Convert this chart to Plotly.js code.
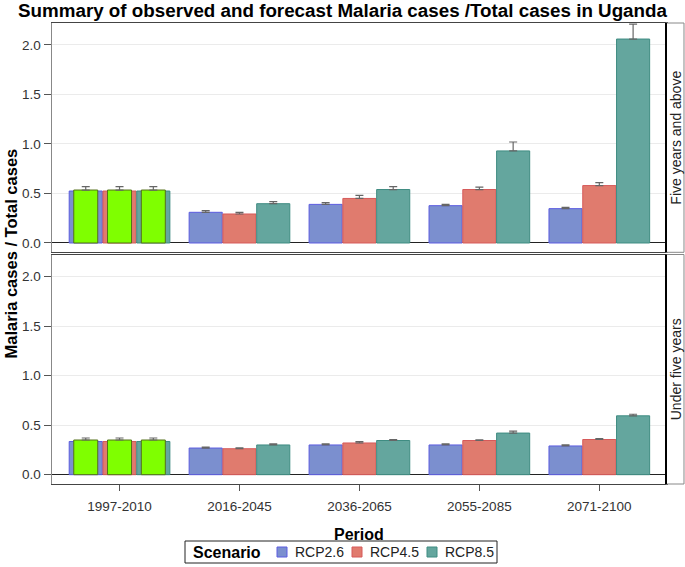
<!DOCTYPE html>
<html>
<head>
<meta charset="utf-8">
<script src="https://cdn.plot.ly/plotly-3.0.1.min.js"></script>
<style>
  html, body { margin: 0; padding: 0; background: #fff; }
  #chart { width: 685px; height: 567px; }
</style>
</head>
<body>
<div id="chart"></div>
<script>
// periods on the x axis
var periods = ["1997-2010", "2016-2045", "2036-2065", "2055-2085", "2071-2100"];
var scenarios = ["RCP2.6", "RCP4.5", "RCP8.5"];

// Five years and above
var rcp26_five = [0.525, 0.31, 0.39, 0.377, 0.347];
var rcp45_five = [0.525, 0.293, 0.45, 0.54, 0.58];
var rcp85_five = [0.525, 0.397, 0.54, 0.93, 2.06];
var rcp26_five_err = [null, 0.016, 0.017, 0.013, 0.013];
var rcp45_five_err = [null, 0.017, 0.03, 0.025, 0.03];
var rcp85_five_err = [null, 0.02, 0.03, 0.09, 0.15];
var obs_five = 0.535;
var obs_five_err = 0.034;

// Under five years
var rcp26_under = [0.335, 0.269, 0.30, 0.30, 0.29];
var rcp45_under = [0.335, 0.262, 0.32, 0.345, 0.355];
var rcp85_under = [0.335, 0.30, 0.345, 0.42, 0.594];
var rcp26_under_err = [null, 0.01, 0.01, 0.01, 0.01];
var rcp45_under_err = [null, 0.008, 0.015, 0.007, 0.01];
var rcp85_under_err = [null, 0.01, 0.01, 0.02, 0.016];
var obs_under = 0.35;
var obs_under_err = 0.02;

var fills = ["#7b8fcf", "#e07b6e", "#64a69e"];
var edges = ["#5c5ce0", "#d65a5a", "#3f8c82"];

function errs(arr) {
  return {
    type: "data", symmetric: false,
    array: arr, arrayminus: arr.map(function (v) { return v == null ? null : 0; }),
    color: "#666", thickness: 1.2, width: 4
  };
}

var data = [];
var five = [rcp26_five, rcp45_five, rcp85_five];
var fiveErr = [rcp26_five_err, rcp45_five_err, rcp85_five_err];
var under = [rcp26_under, rcp45_under, rcp85_under];
var underErr = [rcp26_under_err, rcp45_under_err, rcp85_under_err];

for (var i = 0; i < 3; i++) {
  data.push({
    type: "bar", x: periods, y: five[i], name: scenarios[i],
    xaxis: "x", yaxis: "y",
    marker: { color: fills[i], line: { color: edges[i], width: 1 } },
    error_y: errs(fiveErr[i]), hoverinfo: "y"
  });
}
for (var i = 0; i < 3; i++) {
  data.push({
    type: "bar", x: periods, y: under[i], name: scenarios[i],
    xaxis: "x2", yaxis: "y2",
    marker: { color: fills[i], line: { color: edges[i], width: 1 } },
    error_y: errs(underErr[i]), hoverinfo: "y"
  });
}

// observed period drawn as narrower green bars over each scenario slot
var slot = 0.2817;
var gw = 0.2;
for (var i = 0; i < 3; i++) {
  var off = (i - 1) * slot - gw / 2;
  data.push({
    type: "bar", x: [periods[0]], y: [obs_five], xaxis: "x", yaxis: "y",
    width: gw, offset: off,
    marker: { color: "#7fff00", line: { color: "#55701a", width: 1 } },
    error_y: { type: "data", symmetric: false, array: [obs_five_err], arrayminus: [0], color: "#666", thickness: 1.2, width: 4 },
    hoverinfo: "y"
  });
  data.push({
    type: "bar", x: [periods[0]], y: [obs_under], xaxis: "x2", yaxis: "y2",
    width: gw, offset: off,
    marker: { color: "#7fff00", line: { color: "#55701a", width: 1 } },
    error_y: { type: "data", symmetric: false, array: [obs_under_err], arrayminus: [0], color: "#666", thickness: 1.2, width: 4 },
    hoverinfo: "y"
  });
}

var font = "Liberation Sans, Arial, sans-serif";

// pixel -> paper helpers (plot area 52..666 x, 23..484 y)
function px(x) { return (x - 52) / 614; }
function py(y) { return (484 - y) / 461; }

var yax = {
  range: [-0.094, 2.222], tickvals: [0, 0.5, 1, 1.5, 2], tickformat: ".1f",
  ticks: "outside", ticklen: 7, tickcolor: "#555", tickwidth: 1,
  tickfont: { size: 13.5, color: "#333", family: font },
  showgrid: true, gridcolor: "#ebebeb", gridwidth: 1,
  zeroline: true, zerolinecolor: "#222", zerolinewidth: 1,
  showline: true, linecolor: "#888", linewidth: 1.5, mirror: true,
  fixedrange: true
};

var shapes = [
  { type: "rect", xref: "paper", yref: "paper", x0: 1, x1: 1.0293, y0: 0.5026, y1: 1, line: { color: "#888", width: 1 }, fillcolor: "#fff" },
  { type: "rect", xref: "paper", yref: "paper", x0: 1, x1: 1.0293, y0: 0, y1: 0.4978, line: { color: "#888", width: 1 }, fillcolor: "#fff" },
  { type: "line", xref: "paper", yref: "paper", x0: 1, x1: 1, y0: 0.5026, y1: 1, line: { color: "#000", width: 2 } },
  { type: "line", xref: "paper", yref: "paper", x0: 1, x1: 1, y0: 0, y1: 0.4978, line: { color: "#000", width: 2 } },
  // legend box
  { type: "rect", xref: "paper", yref: "paper", x0: px(185), x1: px(497), y0: py(563), y1: py(541), line: { color: "#222", width: 1 }, fillcolor: "#fff" }
];

var annotations = [
  { text: "Five years and above", xref: "paper", yref: "paper", x: 1.0163, y: 0.7513, textangle: -90, showarrow: false, xanchor: "center", yanchor: "middle", font: { size: 14, family: font, color: "#222" } },
  { text: "Under five years", xref: "paper", yref: "paper", x: 1.0163, y: 0.2489, textangle: -90, showarrow: false, xanchor: "center", yanchor: "middle", font: { size: 14, family: font, color: "#222" } },
  { text: "<b>Malaria cases / Total cases</b>", xref: "paper", yref: "paper", x: -0.0684, y: 0.5, textangle: -90, showarrow: false, xanchor: "center", yanchor: "middle", font: { size: 16.5, family: font, color: "#000" } },
  { text: "<b>Period</b>", xref: "paper", yref: "paper", x: 0.5, y: py(534), showarrow: false, xanchor: "center", yanchor: "middle", font: { size: 16, family: font, color: "#000" } },
  { text: "<b>Scenario</b>", xref: "paper", yref: "paper", x: px(191), y: py(552), showarrow: false, xanchor: "left", yanchor: "middle", font: { size: 16, family: font, color: "#000" } }
];

// legend entries
var entryX = [277, 352, 427];
for (var i = 0; i < scenarios.length; i++) {
  shapes.push({ type: "rect", xref: "paper", yref: "paper", x0: px(entryX[i]), x1: px(entryX[i] + 10), y0: py(557), y1: py(547), fillcolor: fills[i], line: { color: edges[i], width: 1 } });
  annotations.push({ text: scenarios[i], xref: "paper", yref: "paper", x: px(entryX[i] + 16), y: py(552), showarrow: false, xanchor: "left", yanchor: "middle", font: { size: 14, family: font, color: "#222" } });
}

var layout = {
  width: 685, height: 567,
  margin: { l: 52, r: 19, t: 23, b: 83, autoexpand: false },
  paper_bgcolor: "#fff", plot_bgcolor: "#fff",
  font: { family: font, color: "#000" },
  barmode: "group", bargap: 0.155, bargroupgap: 0.02,
  showlegend: false,
  title: {
    text: "<b>Summary of observed and forecast Malaria cases /Total cases in Uganda</b>",
    font: { size: 18.8, family: font, color: "#000" },
    xref: "container", x: 0.5, xanchor: "center",
    yref: "container", y: 1 - 10 / 567, yanchor: "middle"
  },
  xaxis: {
    domain: [0, 1], anchor: "y", range: [-0.563, 4.556],
    showticklabels: false, ticks: "",
    showline: true, linecolor: "#444", linewidth: 1, mirror: true,
    showgrid: false, fixedrange: true
  },
  xaxis2: {
    domain: [0, 1], anchor: "y2", matches: "x", range: [-0.563, 4.556],
    ticks: "outside", ticklen: 6, tickcolor: "#555", ticklabelstandoff: 4,
    tickfont: { size: 13.5, color: "#333", family: font },
    showline: true, linecolor: "#444", linewidth: 1, mirror: true,
    showgrid: false, fixedrange: true
  },
  yaxis: Object.assign({}, yax, { domain: [0.5026, 1], anchor: "x" }),
  yaxis2: Object.assign({}, yax, { domain: [0, 0.4978], anchor: "x2" }),
  shapes: shapes,
  annotations: annotations
};

Plotly.newPlot("chart", data, layout, { displayModeBar: false, staticPlot: true });
</script>
</body>
</html>
